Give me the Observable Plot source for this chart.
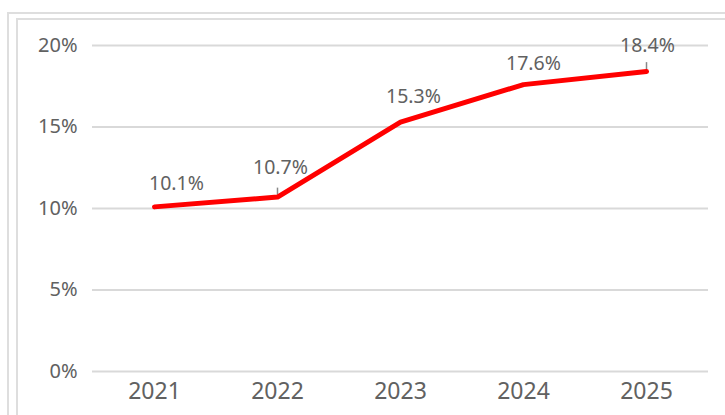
<!DOCTYPE html>
<html>
<head>
<meta charset="utf-8">
<script src="https://cdn.jsdelivr.net/npm/d3@7"></script>
<script src="https://cdn.jsdelivr.net/npm/@observablehq/plot@0.6"></script>
<style>
  html, body { margin: 0; padding: 0; background: #fff; overflow: hidden; }
  #wrap { position: relative; width: 725px; height: 415px; }
  .frame { position: absolute; border: 2px solid #dedede; pointer-events: none; }
  #chart svg { display: block; }
</style>
</head>
<body>
<div id="wrap">
  <div id="chart"></div>
  <div class="frame" style="left:7px; top:12px; width:760px; height:460px;"></div>
  <div class="frame" style="left:16px; top:18px; width:760px; height:460px;"></div>
</div>
<script>
const years = ["2021", "2022", "2023", "2024", "2025"];
const rates = [10.1, 10.7, 15.3, 17.6, 18.4];
const yTicks = [0, 5, 10, 15, 20];
const labels = ["10.1%", "10.7%", "15.3%", "17.6%", "18.4%"];
const leaderYears = ["2022", "2025"];

const data = years.map((year, i) => ({ year, value: rates[i], label: labels[i] }));
// label nudges in pixels [dx, dy]
const nudges = [[22, -23], [3, -29], [13, -25], [10, -21], [1, -26]];

const font = "'Noto Sans', sans-serif";
const grey = "#616161";

const chart = Plot.plot({
  width: 725,
  height: 415,
  marginLeft: 92,
  marginRight: 17,
  marginTop: 45,
  marginBottom: 44,
  style: { fontFamily: font, background: "transparent" },
  x: { type: "point", domain: years, padding: 0.5, label: null },
  y: { domain: [0, 20], label: null },
  marks: [
    Plot.ruleY(yTicks, { stroke: "#d9d9d9", strokeWidth: 2 }),
    Plot.axisY({ ticks: yTicks, tickSize: 0, tickPadding: 15, tickFormat: d => d + "%", fontSize: 20, fill: grey, label: null }),
    Plot.axisX({ tickSize: 0, tickPadding: 11, fontSize: 23, fill: grey, label: null }),
    Plot.ruleX(data.filter(d => leaderYears.includes(d.year)), {
      x: "year", y1: d => d.value + 0.12, y2: d => d.value + 0.55, stroke: "#888", strokeWidth: 1.5
    }),
    Plot.line(data, { x: "year", y: "value", stroke: "#ff0000", strokeWidth: 5, strokeLinejoin: "round", strokeLinecap: "round" }),
    ...data.map((d, i) => Plot.text([d], {
      x: "year", y: "value", text: "label", dx: nudges[i][0], dy: nudges[i][1],
      fontSize: 19.5, fill: grey, fontFamily: font
    }))
  ]
});
document.getElementById("chart").append(chart);
</script>
</body>
</html>
